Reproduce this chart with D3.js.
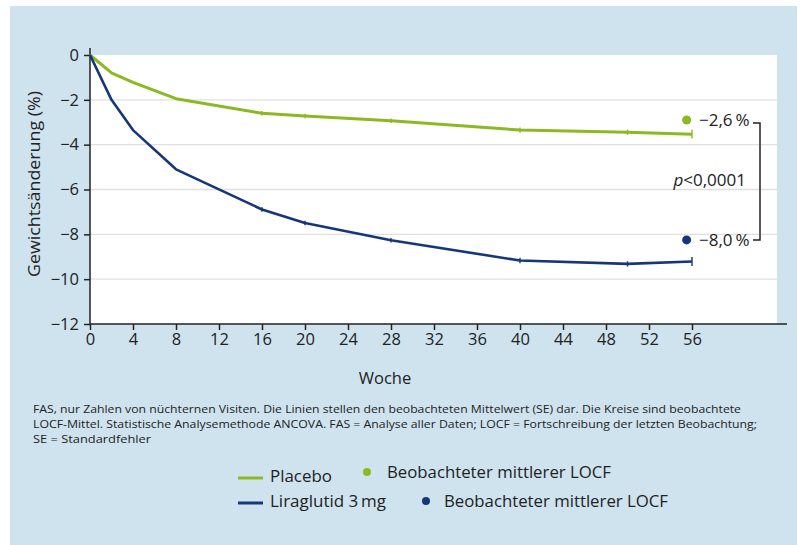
<!DOCTYPE html>
<html><head><meta charset="utf-8">
<script src="https://cdn.jsdelivr.net/npm/d3@7"></script>
<style>
body{margin:0;background:#fff;}
svg{display:block;font-family:"Open Sans","Noto Sans",sans-serif;}
</style></head>
<body>
<svg id="c" width="801" height="545"></svg>
<script>
const weeks = [0, 2, 4, 8, 16, 20, 28, 40, 50, 56];
const placebo = [0, -0.8, -1.22, -1.95, -2.6, -2.72, -2.93, -3.35, -3.45, -3.53];
const lira = [0, -2.0, -3.35, -5.1, -6.89, -7.49, -8.26, -9.17, -9.32, -9.21];
const placeboSE = [0, 0, 0, 0, 0.1, 0.1, 0.1, 0.12, 0.12, 0.2];
const liraSE = [0, 0, 0, 0, 0.1, 0.1, 0.1, 0.12, 0.12, 0.2];
const xTicks = [0, 4, 8, 12, 16, 20, 24, 28, 32, 36, 40, 44, 48, 52, 56];
const yTicks = [0, -2, -4, -6, -8, -10, -12];
const locfWeek = [55.5, 55.5];
const locfMarker = [-2.9, -8.25];
const locfLabels = ["\u22122,6\u2009%", "\u22128,0\u2009%"];
const seriesNames = ["Placebo", "Liraglutid 3\u2009mg"];
const locfName = "Beobachteter mittlerer LOCF";
const colors = ["#8cb822", "#16367a"];
const footnote = [
 "FAS, nur Zahlen von nüchternen Visiten. Die Linien stellen den beobachteten Mittelwert (SE) dar. Die Kreise sind beobachtete",
 "LOCF-Mittel. Statistische Analysemethode ANCOVA. FAS = Analyse aller Daten; LOCF = Fortschreibung der letzten Beobachtung;",
 "SE = Standardfehler"];
const footWidths = [708, 724, 118];

const svg = d3.select("#c");
svg.append("rect").attr("x",10).attr("y",6).attr("width",787).attr("height",539).attr("fill","#cfe3ef");

const x = d3.scaleLinear().domain([0,56]).range([90,692]);
const y = d3.scaleLinear().domain([-12,0]).range([324,55]);

svg.append("rect").attr("x",90).attr("y",55).attr("width",687).attr("height",269).attr("fill","#fff");

// grid
svg.append("g").selectAll("line").data(yTicks.filter(d=>d!==0 && d!==-12)).join("line")
 .attr("x1",90).attr("x2",777).attr("y1",d=>y(d)).attr("y2",d=>y(d))
 .attr("stroke","#e0e0e0").attr("stroke-width",1.3);

// axes
const yAx = svg.append("g").attr("transform","translate(90,0)")
 .call(d3.axisLeft(y).tickValues(yTicks).tickSize(6).tickSizeOuter(0).tickFormat(d3.format("d")));
yAx.select(".domain").remove();
yAx.selectAll("line").attr("stroke","#222").attr("stroke-width",1.5);
yAx.selectAll("text").attr("font-size",16.5).attr("fill","#222").attr("font-family","Open Sans").attr("x",-11);
svg.append("line").attr("x1",90).attr("x2",90).attr("y1",48).attr("y2",324).attr("stroke","#222").attr("stroke-width",1.5);

const xAx = svg.append("g").attr("transform","translate(0,324)")
 .call(d3.axisBottom(x).tickValues(xTicks).tickSize(6).tickSizeOuter(0));
xAx.select(".domain").remove();
xAx.selectAll("line").attr("stroke","#222").attr("stroke-width",1.5);
xAx.selectAll("text").attr("font-size",16.5).attr("fill","#222").attr("font-family","Open Sans").attr("y",9);
svg.append("line").attr("x1",90).attr("x2",787).attr("y1",324).attr("y2",324).attr("stroke","#222").attr("stroke-width",1.5);

svg.append("text").attr("x",385).attr("y",384).attr("text-anchor","middle").attr("font-size",16.5).attr("fill","#222").text("Woche");
svg.append("text").attr("transform","translate(40,184) rotate(-90)").attr("text-anchor","middle").attr("font-size",17).attr("fill","#222")
 .attr("textLength",186).attr("lengthAdjust","spacingAndGlyphs").text("Gewichtsänderung (%)");

// lines
const line = d3.line().x(d=>x(d[0])).y(d=>y(d[1]));
[placebo, lira].forEach((s,i)=>{
  const pts = weeks.map((w,j)=>[w,s[j]]);
  svg.append("path").datum(pts).attr("d",line).attr("fill","none").attr("stroke",colors[i]).attr("stroke-width",i===0?3:2.6).attr("stroke-linejoin","round");
  const se = i===0?placeboSE:liraSE;
  svg.append("g").selectAll("line").data(weeks.map((w,j)=>[w,s[j],se[j]]).filter(d=>d[2]>0)).join("line")
   .attr("x1",d=>x(d[0])).attr("x2",d=>x(d[0])).attr("y1",d=>y(d[1]-d[2])).attr("y2",d=>y(d[1]+d[2]))
   .attr("stroke",colors[i]).attr("stroke-width",1.4);
});

// LOCF markers and labels
locfMarker.forEach((v,i)=>{
  svg.append("circle").attr("cx",x(locfWeek[i])).attr("cy",y(v)).attr("r",4.5).attr("fill",colors[i]);
  svg.append("text").attr("x",699).attr("y",y(v)+6).attr("font-size",17).attr("fill","#222").text(locfLabels[i]);
});
const b1 = y(locfMarker[0])+3, b2 = y(locfMarker[1]);
svg.append("path").attr("d",`M753,${b1}H760V${b2}H753`).attr("fill","none").attr("stroke","#222").attr("stroke-width",1.5);
const pt = svg.append("text").attr("x",746).attr("y",186).attr("text-anchor","end").attr("font-size",17).attr("fill","#222");
pt.append("tspan").attr("font-style","italic").text("p");
pt.append("tspan").text("<0,0001");

// footnote
svg.append("g").selectAll("text").data(footnote).join("text")
 .attr("x",33).attr("y",(d,i)=>413+i*15).attr("font-size",11.5).attr("fill","#222")
 .attr("textLength",(d,i)=>footWidths[i]).attr("lengthAdjust","spacingAndGlyphs").text(d=>d);

// legend
const leg = [[238,478,270,62,367,472,387],[238,503,270,116,426,501,444]];
leg.forEach((p,i)=>{
  svg.append("line").attr("x1",p[0]).attr("x2",p[0]+25).attr("y1",p[1]).attr("y2",p[1]).attr("stroke",colors[i]).attr("stroke-width",3);
  svg.append("text").attr("x",p[2]).attr("y",p[1]+4).attr("font-size",17).attr("fill","#222")
   .attr("textLength",p[3]).attr("lengthAdjust","spacingAndGlyphs").text(seriesNames[i]);
  svg.append("circle").attr("cx",p[4]).attr("cy",p[5]).attr("r",4).attr("fill",colors[i]);
  svg.append("text").attr("x",p[6]).attr("y",p[5]+6).attr("font-size",17).attr("fill","#222")
   .attr("textLength",224).attr("lengthAdjust","spacingAndGlyphs").text(locfName);
});
</script>
</body></html>
